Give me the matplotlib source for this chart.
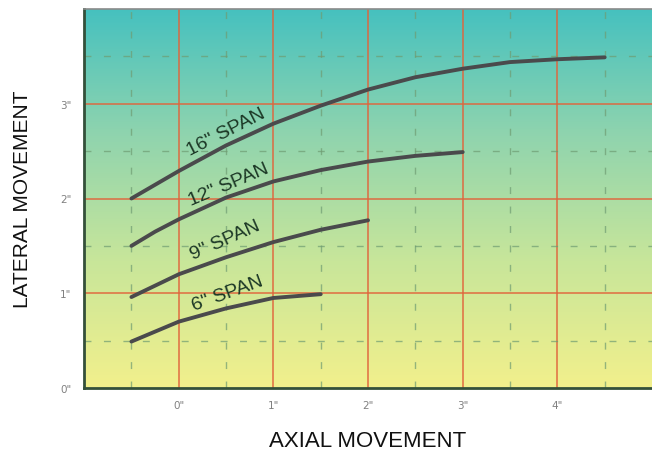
import matplotlib; matplotlib.use("Agg")
import matplotlib.pyplot as plt
import numpy as np
from matplotlib.colors import LinearSegmentedColormap

# ---- data (inches) ----
x16 = [-0.5, 0.0, 0.5, 1.0, 1.5, 2.0, 2.5, 3.0, 3.5, 4.0, 4.5]
y16 = [2.0, 2.29, 2.56, 2.79, 2.98, 3.15, 3.28, 3.37, 3.44, 3.47, 3.49]
x12 = [-0.5, -0.25, 0.0, 0.5, 1.0, 1.5, 2.0, 2.5, 3.0]
y12 = [1.5, 1.65, 1.78, 2.01, 2.18, 2.3, 2.39, 2.45, 2.49]
x9 = [-0.5, 0.0, 0.5, 1.0, 1.5, 2.0]
y9 = [0.96, 1.2, 1.38, 1.54, 1.67, 1.77]
x6 = [-0.5, 0.0, 0.5, 1.0, 1.5]
y6 = [0.49, 0.7, 0.84, 0.95, 0.99]
span_labels = ['16" SPAN', '12" SPAN', '9" SPAN', '6" SPAN']
xticks = [0, 1, 2, 3, 4]; xtick_labels = ['0"', '1"', '2"', '3"', '4"']
yticks = [0, 1, 2, 3]; ytick_labels = ['0"', '1"', '2"', '3"']

LINE = "#4a4a4c"; TXT = "#1c3826"; RED = "#e0643c"; DASH = "#6f9c72"
fig = plt.figure(figsize=(6.52, 4.56), dpi=100)
ax = fig.add_axes([0.129, 0.147, 0.871, 0.831])
ax.set_xlim(-1, 5); ax.set_ylim(0, 4)

# background gradient teal (top) -> yellow (bottom)
cm = LinearSegmentedColormap.from_list("bg", ["#f2f08c", "#c8e69a", "#90d4ae", "#46c1bf"])
grad = np.linspace(0, 1, 256).reshape(-1, 1)
ax.imshow(grad, cmap=cm, origin="lower", extent=[-1, 5, 0, 4], aspect="auto", zorder=0)

# grid: solid red at whole inches, dashed green at half inches
for v in range(0, 5):
    ax.axvline(v, color=RED, lw=1.3, alpha=0.8, zorder=1)
for v in range(1, 4):
    ax.axhline(v, color=RED, lw=1.3, alpha=0.8, zorder=1)
for v in np.arange(-0.5, 5, 1.0):
    ax.axvline(v, color=DASH, lw=1.0, ls=(0, (5, 9)), alpha=0.7, zorder=1)
for v in np.arange(0.5, 4, 1.0):
    ax.axhline(v, color=DASH, lw=1.0, ls=(0, (5, 9)), alpha=0.7, zorder=1)

for xs, ys in [(x16, y16), (x12, y12), (x9, y9), (x6, y6)]:
    ax.plot(xs, ys, color=LINE, lw=2.8, solid_capstyle="round", solid_joinstyle="round", zorder=3)

lab_pos = [(0.5, 2.71, 27), (0.53, 2.15, 23), (0.49, 1.56, 24), (0.51, 1.0, 20)]
for t, (lx, ly, rot) in zip(span_labels, lab_pos):
    ax.text(lx, ly, t, rotation=rot, rotation_mode="anchor", ha="center", va="center", color=TXT,
            fontsize=14, family="Liberation Sans", zorder=4)

ax.set_xticks(xticks); ax.set_xticklabels(xtick_labels)
ax.set_yticks(yticks); ax.set_yticklabels(ytick_labels)
ax.tick_params(length=0, labelsize=7.5, colors="#808080", pad=9)
for s in ["left", "bottom"]:
    ax.spines[s].set_color("#34503a"); ax.spines[s].set_linewidth(2)
ax.spines["top"].set_color("#8a8a8a"); ax.spines["top"].set_linewidth(1.2)
ax.spines["right"].set_visible(False)

ax.set_xlabel("AXIAL MOVEMENT", fontsize=16, family="Liberation Sans", color="#111111", labelpad=14)
ax.set_ylabel("LATERAL MOVEMENT", fontsize=15, family="Liberation Sans", color="#111111", labelpad=20)

fig.savefig("out.png", dpi=100)
